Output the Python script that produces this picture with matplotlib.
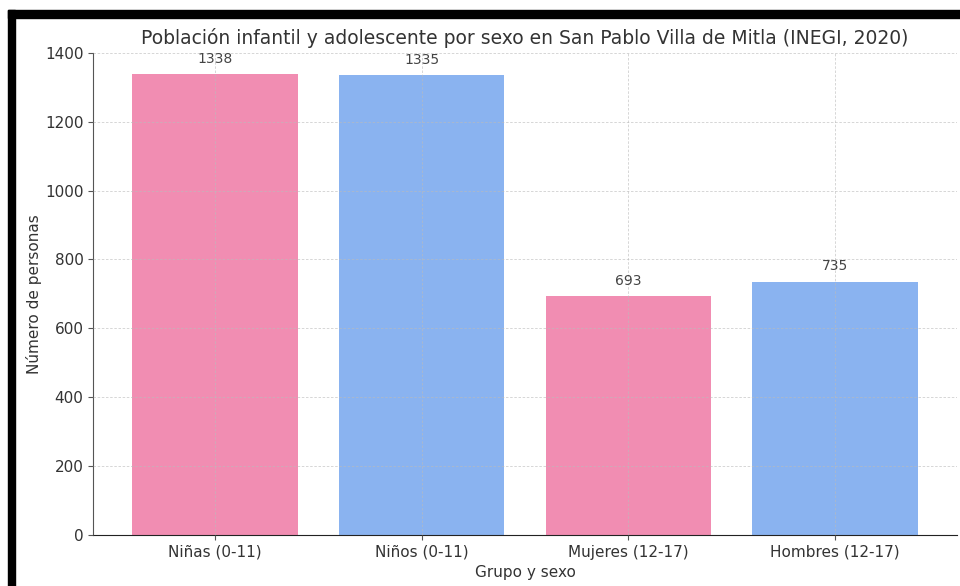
import matplotlib.pyplot as plt
from matplotlib.patches import Rectangle

grupos = ['Niñas (0-11)', 'Niños (0-11)', 'Mujeres (12-17)', 'Hombres (12-17)']
personas = [1338, 1335, 693, 735]
colores = ['#F18DB2', '#8AB3F0', '#F18DB2', '#8AB3F0']

fig = plt.figure(figsize=(9.6, 5.86), dpi=100)
ax = fig.add_axes([0.097, 0.087, 0.9, 0.823])

barras = ax.bar(grupos, personas, color=colores, width=0.8)
for b, v in zip(barras, personas):
    ax.annotate(str(v), (b.get_x() + b.get_width() / 2, v), xytext=(0, 6),
                textcoords='offset points', ha='center', va='bottom',
                fontsize=10, color='#444444')

ax.set_ylim(0, 1400)
ax.set_title('Población infantil y adolescente por sexo en San Pablo Villa de Mitla (INEGI, 2020)',
             fontsize=13.5, color='#333333', pad=6)
ax.set_xlabel('Grupo y sexo', fontsize=11, color='#333333')
ax.set_ylabel('Número de personas', fontsize=11, color='#333333', labelpad=2)
ax.tick_params(labelsize=11, labelcolor='#333333', color='#555555')
ax.grid(True, linestyle=(0, (3, 2)), color='#bbbbbb', linewidth=0.6, alpha=0.7)
ax.set_axisbelow(False)
for s in ['top', 'right']:
    ax.spines[s].set_visible(False)
ax.spines['left'].set_color('#555555')
ax.spines['bottom'].set_color('#222222')

# marco negro de la captura
fig.patches.append(Rectangle((8 / 960, 0), 7 / 960, 1 - 10 / 586, transform=fig.transFigure,
                             color='black', zorder=10))
fig.patches.append(Rectangle((8 / 960, 1 - 18 / 586), 1, 8 / 586, transform=fig.transFigure,
                             color='black', zorder=10))

fig.savefig('out.png', dpi=100)
